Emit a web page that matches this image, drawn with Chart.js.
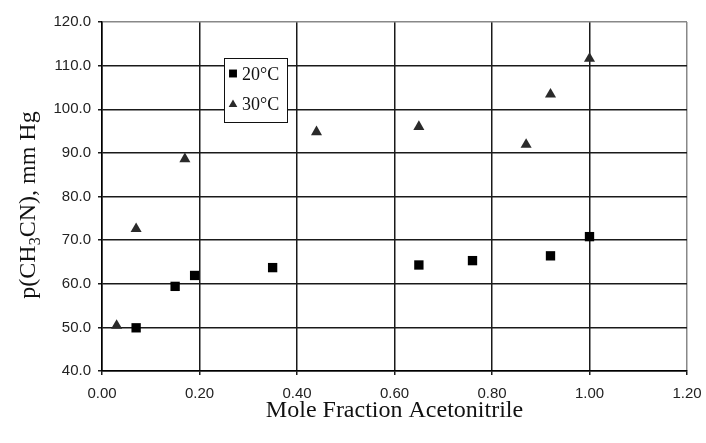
<!DOCTYPE html>
<html>
<head>
<meta charset="utf-8">
<script src="https://cdn.jsdelivr.net/npm/chart.js@4.4.0/dist/chart.umd.min.js"></script>
<style>
  html, body { margin: 0; padding: 0; background: #fff; }
  #wrap { width: 706px; height: 443px; }
</style>
</head>
<body>
<div id="wrap"><canvas id="grafico" width="706" height="443"></canvas></div>
<script>
// Datos
const etiquetas = ["20°C", "30°C"];
const fraccion20 = [0.07, 0.15, 0.19, 0.35, 0.65, 0.76, 0.92, 1.00];
const presion20 = [49.9, 59.4, 61.9, 63.7, 64.3, 65.3, 66.4, 70.8];
const fraccion30 = [0.03, 0.07, 0.17, 0.44, 0.65, 0.87, 0.92, 1.00];
const presion30 = [50.4, 72.6, 88.6, 94.8, 96.0, 91.9, 103.4, 111.6];
const ticksX = [0, 0.2, 0.4, 0.6, 0.8, 1.0, 1.2];
const ticksY = [40, 50, 60, 70, 80, 90, 100, 110, 120];
const tituloX = "Mole Fraction Acetonitrile";
const tituloY = ["p(CH", "3", "CN), mm Hg"];

const serif = "'Liberation Serif', 'Times New Roman', serif";
const sans = "'Liberation Sans', Arial, sans-serif";

function puntos(xs, ys) {
    return xs.map((x, i) => ({ x: x, y: ys[i] }));
}

// Títulos de ejes y leyenda dibujados a mano
const extras = {
    id: "extras",
    afterDraw(chart) {
        const ctx = chart.ctx;
        const area = chart.chartArea;
        ctx.save();
        ctx.fillStyle = "#111";

        // título eje X
        ctx.font = "24px " + serif;
        ctx.textAlign = "center";
        ctx.textBaseline = "alphabetic";
        ctx.fillText(tituloX, (area.left + area.right) / 2, 417);

        // título eje Y con subíndice
        ctx.save();
        ctx.translate(35, 205);
        ctx.rotate(-Math.PI / 2);
        ctx.textAlign = "left";
        ctx.font = "24px " + serif;
        const w1 = ctx.measureText(tituloY[0]).width;
        const w3 = ctx.measureText(tituloY[2]).width;
        ctx.font = "16px " + serif;
        const w2 = ctx.measureText(tituloY[1]).width;
        let x0 = -(w1 + w2 + w3) / 2;
        ctx.font = "24px " + serif;
        ctx.fillText(tituloY[0], x0, 0);
        ctx.font = "16px " + serif;
        ctx.fillText(tituloY[1], x0 + w1, 5);
        ctx.font = "24px " + serif;
        ctx.fillText(tituloY[2], x0 + w1 + w2, 0);
        ctx.restore();

        // leyenda
        ctx.fillStyle = "#fff";
        ctx.fillRect(224.5, 58.5, 63, 64);
        ctx.strokeStyle = "#111";
        ctx.lineWidth = 1;
        ctx.strokeRect(224.5, 58.5, 63, 64);
        const filas = [73.5, 103.5];
        chart.data.datasets.forEach((ds, i) => {
            ctx.fillStyle = ds.backgroundColor;
            ctx.strokeStyle = ds.backgroundColor;
            Chart.helpers.drawPoint(ctx, {
                pointStyle: ds.pointStyle,
                radius: ds.pointStyle === "rect" ? 5.6 : 5,
                rotation: 0,
                borderWidth: 0
            }, 233, filas[i] + (ds.pointStyle === "rect" ? 0 : 1));
            ctx.fillStyle = "#111";
            ctx.font = "18px " + serif;
            ctx.textAlign = "left";
            ctx.fillText(ds.label, 242, filas[i] + 6);
        });
        ctx.restore();
    }
};

const config = {
    type: "scatter",
    data: {
        datasets: [
            {
                label: etiquetas[0],
                data: puntos(fraccion20, presion20),
                pointStyle: "rect",
                pointRadius: 6.6,
                backgroundColor: "#000",
                borderColor: "#000",
                borderWidth: 0
            },
            {
                label: etiquetas[1],
                data: puntos(fraccion30, presion30),
                pointStyle: "triangle",
                pointRadius: 6.4,
                backgroundColor: "#2a2a2a",
                borderColor: "#2a2a2a",
                borderWidth: 0
            }
        ]
    },
    options: {
        responsive: false,
        animation: false,
        layout: { padding: { left: 0, top: 22, right: 19, bottom: 0 } },
        plugins: {
            legend: { display: false },
            tooltip: { enabled: false }
        },
        scales: {
            x: {
                type: "linear",
                min: 0,
                max: 1.2,
                afterBuildTicks: (s) => { s.ticks = ticksX.map((v) => ({ value: v })); },
                afterFit: (s) => {
                    s.height = 72;
                    s.paddingLeft = 0;
                    s.paddingRight = 0;
                },
                ticks: {
                    callback: (v) => v.toFixed(2),
                    color: "#222",
                    font: { family: sans, size: 15 },
                    padding: 10
                },
                grid: {
                    color: (c) => (c.tick && c.tick.value === 1.2 ? "#888" : "#1a1a1a"),
                    lineWidth: 1.5,
                    tickLength: 4,
                    tickColor: "#1a1a1a"
                },
                border: { color: "#000", width: 1.5 }
            },
            y: {
                type: "linear",
                min: 40,
                max: 120,
                afterBuildTicks: (s) => { s.ticks = ticksY.map((v) => ({ value: v })); },
                afterFit: (s) => {
                    s.width = 102;
                    s.paddingTop = 0;
                    s.paddingBottom = 0;
                },
                ticks: {
                    callback: (v) => v.toFixed(1),
                    color: "#222",
                    font: { family: sans, size: 15 },
                    padding: 7
                },
                grid: {
                    color: (c) => (c.tick && c.tick.value === 120 ? "#888" : "#1a1a1a"),
                    lineWidth: 1.5,
                    tickLength: 4,
                    tickColor: "#1a1a1a"
                },
                border: { color: "#000", width: 1.5 }
            }
        }
    },
    plugins: [extras]
};

new Chart(document.getElementById("grafico").getContext("2d"), config);
</script>
</body>
</html>
